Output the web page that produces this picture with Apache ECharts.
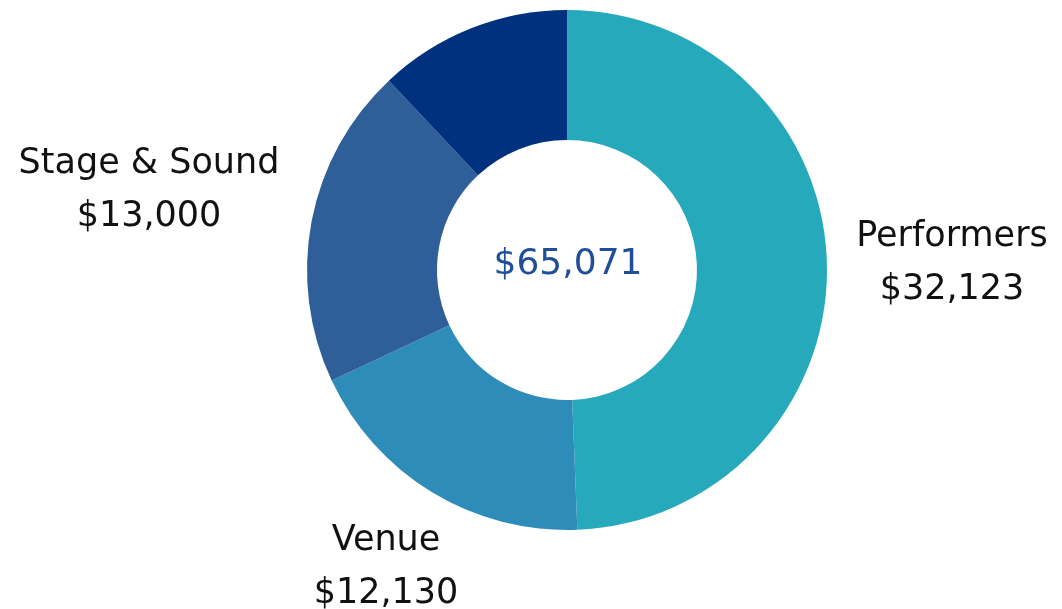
<!DOCTYPE html>
<html lang="en">
<head>
    <meta charset="UTF-8">
    <title>Budget</title>
    <style>
        html, body { margin: 0; padding: 0; background: #ffffff; }
        #main { width: 1062px; height: 609px; }
    </style>
</head>
<body>
    <div id="main"></div>
    <script src="https://cdn.jsdelivr.net/npm/echarts@6/dist/echarts.min.js"></script>
    <script>
        // data
        var categories = ['Performers', 'Venue', 'Stage & Sound', 'Other'];
        var amounts = [32123, 12130, 13000, 7818];
        var colors = ['#27A9BC', '#2E8CB9', '#2E5F98', '#00317E'];
        var showLabel = [true, true, true, false];
        var totalText = '$65,071';

        // label centres (x, y) in px
        var labelPos = [[952, 263], [386, 567], [149, 190], [0, 0]];

        function money(v) {
            return '$' + v.toLocaleString('en-US');
        }

        var chart = echarts.init(document.getElementById('main'));
        var option = {
            animation: false,
            graphic: [{
                type: 'text',
                x: 568,
                y: 265,
                style: {
                    text: totalText,
                    fill: '#1F4F99',
                    font: '36px "DejaVu Sans"',
                    textAlign: 'center',
                    textVerticalAlign: 'middle'
                }
            }],
            series: [{
                type: 'pie',
                center: [567, 270],
                radius: [130, 260],
                startAngle: 90,
                clockwise: true,
                avoidLabelOverlap: false,
                itemStyle: { borderWidth: 0 },
                label: {
                    show: true,
                    position: 'outside',
                    color: '#111111',
                    fontFamily: 'DejaVu Sans',
                    fontSize: 35,
                    lineHeight: 53,
                    formatter: function (p) {
                        return p.name + '\n' + money(p.value);
                    }
                },
                labelLine: { show: false },
                labelLayout: function (p) {
                    var pos = labelPos[p.dataIndex];
                    return { x: pos[0], y: pos[1], align: 'center', verticalAlign: 'middle' };
                },
                data: categories.map(function (c, i) {
                    return {
                        name: c,
                        value: amounts[i],
                        itemStyle: { color: colors[i] },
                        label: { show: showLabel[i] }
                    };
                })
            }]
        };
        chart.setOption(option);
    </script>
</body>
</html>
